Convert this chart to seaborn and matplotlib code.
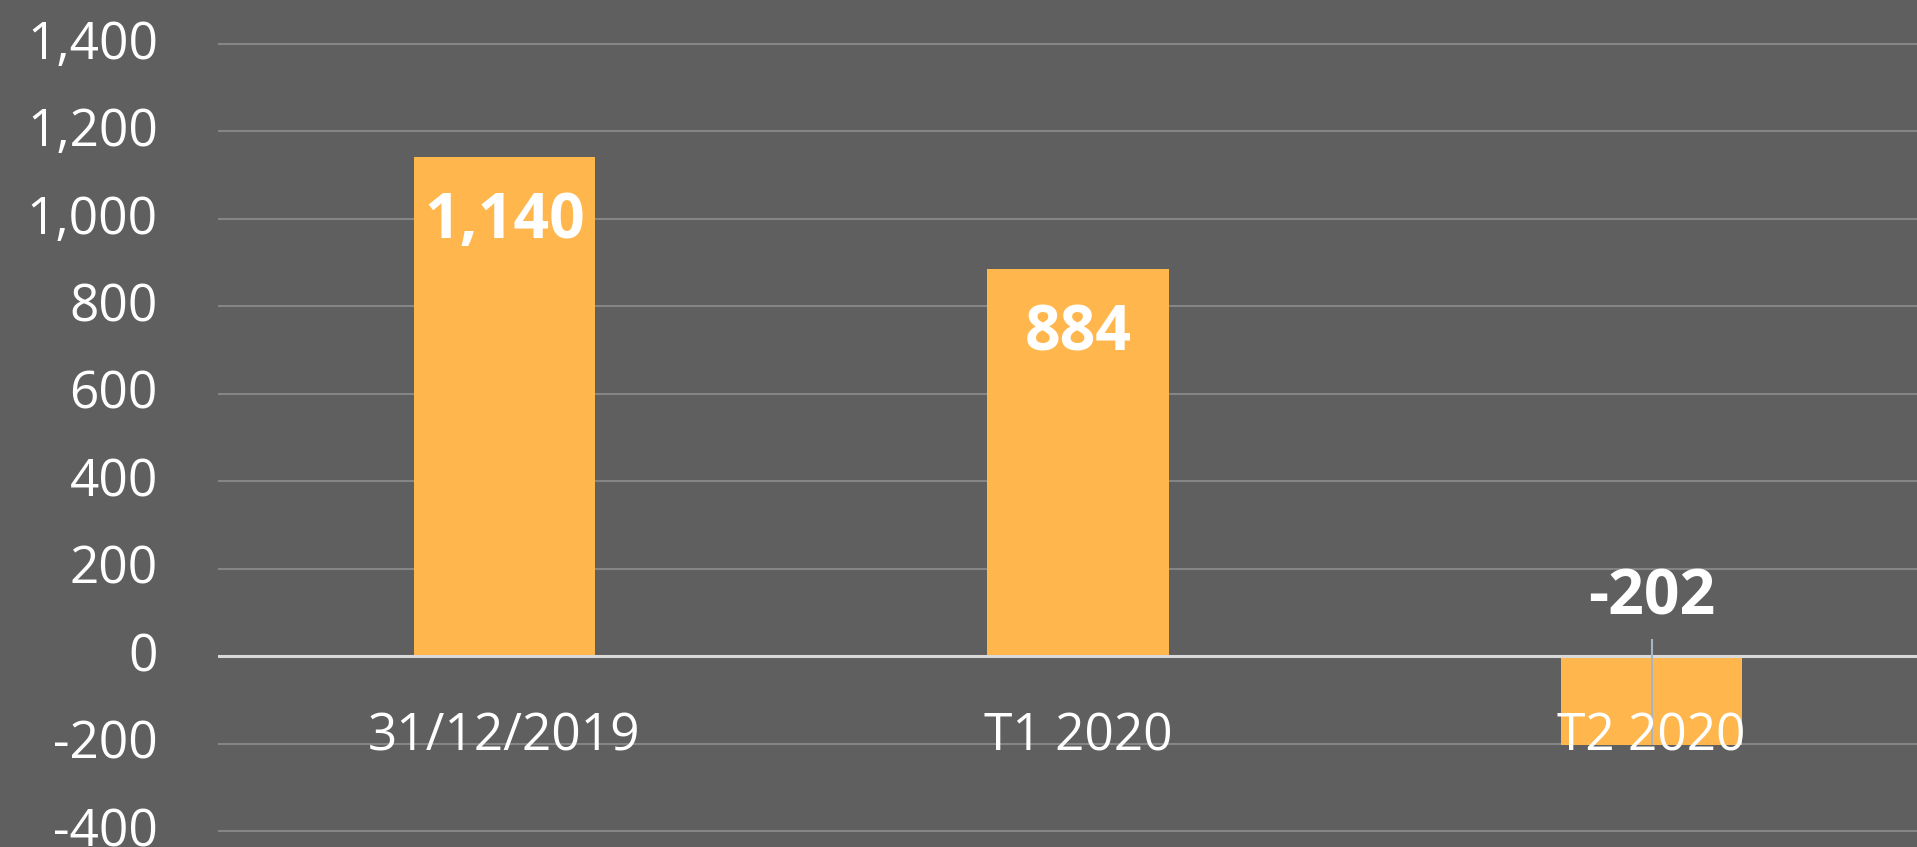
import numpy as np
import pandas as pd
import matplotlib
matplotlib.use("Agg")
import matplotlib.pyplot as plt
import matplotlib.transforms as mtransforms
from matplotlib.ticker import FuncFormatter
import seaborn as sns

# 数据
categories = ["31/12/2019", "T1 2020", "T2 2020"]
values = [1140, 884, -202]
y_ticks = [-400, -200, 0, 200, 400, 600, 800, 1000, 1200, 1400]

bg = "#5f5f5f"
bar_color = "#ffb74d"

sns.set_style("white")
plt.rcParams["font.family"] = ["Open Sans", "DejaVu Sans"]

df = pd.DataFrame({"cat": categories, "val": values})

fig = plt.figure(figsize=(19.17, 8.47), dpi=100, facecolor=bg)
ax = fig.add_axes([217.6 / 1917, 0, 1 - 217.6 / 1917, 1])
ax.set_facecolor(bg)

sns.barplot(data=df, x="cat", y="val", color=bar_color, saturation=1,
            width=0.316, linewidth=0, ax=ax, zorder=2)

ax.set_xlim(-0.5, 2.4625)
ax.set_ylim(-436, 1500)
ax.set_yticks(y_ticks)
ax.yaxis.set_major_formatter(FuncFormatter(lambda v, p: f"{int(v):,}"))

# 网格线在柱子下面，x轴标签在柱子上面
ax.yaxis.grid(True, color="#858585", lw=1.5)
ax.yaxis.set_zorder(0.5)
ax.xaxis.set_zorder(5)
ax.axhline(0, color="#d9d9d9", lw=2.2, zorder=3)

for s in ax.spines.values():
    s.set_visible(False)

ax.set_xlabel("")
ax.set_ylabel("")
ax.tick_params(axis="y", length=0, pad=43, labelsize=37, labelcolor="white")
ax.tick_params(axis="x", length=0, pad=0, labelsize=37, labelcolor="white")
for lab in ax.get_yticklabels():
    lab.set_va("baseline")
    lab.set_transform(lab.get_transform() +
                      mtransforms.ScaledTranslation(0, -15 / 100, fig.dpi_scale_trans))

# x轴标签放在零线下方
ax.spines["bottom"].set_position(("data", 0))
for lab in ax.get_xticklabels():
    lab.set_va("baseline")
    lab.set_transform(lab.get_transform() +
                      mtransforms.ScaledTranslation(0, -94 / 100, fig.dpi_scale_trans))

# 数值标签
for i, v in enumerate(values):
    if v >= 0:
        ax.annotate(f"{v:,}", (i, v), xytext=(0, -58.3), textcoords="offset points",
                    ha="center", va="baseline", fontsize=45, fontweight="bold",
                    color="white", zorder=5)
    else:
        ax.annotate(f"{v:,}", (i, 0), xytext=(0, 30), textcoords="offset points",
                    ha="center", va="baseline", fontsize=45, fontweight="bold",
                    color="white", zorder=5)
        ax.vlines(i, v, 40, color="#a9b4c2", lw=1.5, zorder=4)

fig.savefig("out.png", dpi=100, facecolor=bg)
